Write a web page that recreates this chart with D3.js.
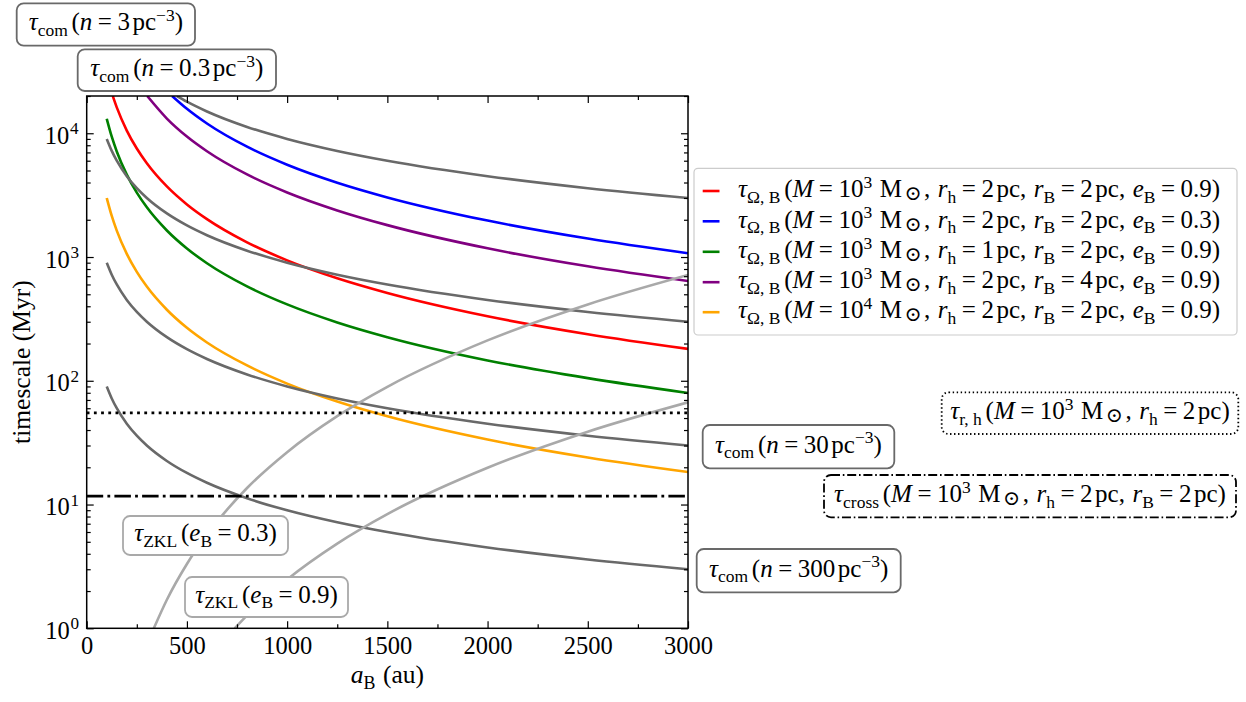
<!DOCTYPE html>
<html><head><meta charset="utf-8">
<script src="https://cdn.jsdelivr.net/npm/d3@7"></script>
<style>
body{margin:0;background:#fff}
svg{display:block}
text{font-family:"Liberation Serif","Times New Roman","DejaVu Serif",serif;fill:#000}
</style>
</head><body>
<svg id="c" width="1246" height="702"></svg>
<script>
// ---------------- DATA ----------------
const xTicks = [0, 500, 1000, 1500, 2000, 2500, 3000];
const xMinorTicks = [250, 750, 1250, 1750, 2250, 2750];
const yTickExps = [0, 1, 2, 3, 4];

// tau_Omega,B curves (a_B in au, timescale in Myr)
const redA = [130, 150, 200, 250, 300, 400, 500, 600, 800, 1000, 1250, 1500, 2000, 2500, 3000];
const redV = [20000, 16190, 10515, 7523, 5724, 3718, 2660, 2024, 1314, 940, 673, 512, 332, 238, 181];
const blueA = [426, 500, 600, 800, 1000, 1250, 1500, 2000, 2500, 3000];
const blueV = [20000, 15756, 11985, 7785, 5570, 3986, 3032, 1969, 1409, 1072];
const greenA = [100, 125, 150, 200, 250, 300, 400, 500, 600, 800, 1000, 1250, 1500, 2000, 2500, 3000];
const greenV = [13100, 9374, 7131, 4632, 3314, 2521, 1638, 1172, 891, 579, 414, 296, 225, 146, 105, 79.7];
const purpleA = [302, 400, 500, 600, 800, 1000, 1250, 1500, 2000, 2500, 3000];
const purpleV = [20000, 13145, 9406, 7155, 4647, 3325, 2380, 1810, 1176, 841, 640];
const orangeA = [100, 125, 150, 200, 250, 300, 400, 500, 600, 800, 1000, 1250, 1500, 2000, 2500, 3000];
const orangeV = [3000, 2147, 1633, 1061, 759, 577, 375, 268, 204, 133, 94.9, 67.9, 51.6, 33.5, 24.0, 18.3];

// tau_com curves
const com03A = [450, 500, 600, 800, 1000, 1250, 1500, 2000, 2500, 3000];
const com03V = [20000, 18000, 15000, 11250, 9000, 7200, 6000, 4500, 3600, 3000];
const comA = [100, 125, 150, 200, 250, 300, 400, 500, 600, 800, 1000, 1250, 1500, 2000, 2500, 3000];
const com3V = [9000, 7200, 6000, 4500, 3600, 3000, 2250, 1800, 1500, 1125, 900, 720, 600, 450, 360, 300];
const com30V = [900, 720, 600, 450, 360, 300, 225, 180, 150, 112.5, 90, 72, 60, 45, 36, 30];
const com300V = [90, 72, 60, 45, 36, 30, 22.5, 18, 15, 11.25, 9, 7.2, 6, 4.5, 3.6, 3];

// tau_ZKL curves
const zkl03A = [335, 400, 500, 600, 800, 1000, 1250, 1500, 2000, 2500, 3000];
const zkl03V = [1.0, 1.70, 3.31, 5.72, 13.6, 26.5, 51.8, 89.4, 212, 414, 716];
const zkl09A = [739, 800, 1000, 1250, 1500, 2000, 2500, 3000];
const zkl09V = [1.0, 1.27, 2.48, 4.84, 8.37, 19.8, 38.8, 67];

// horizontal timescales
const tauRh = 55;
const tauCross = 11.7;

// ---------------- LABELS ----------------
// [text, kind, dx(em)]
const eq = ['=', 'r', 0.22];
const after = 0.22;
const omegaLabel = (M, rh, rB, e) => [
  ['τ','i'],['Ω, B','sub'],['(','r',0.15],['M','i'],eq,['10','r',after],[M,'sup'],['M','r',0.3],['⊙','odot',0.1],[',','r',0.1],
  ['r','i',0.3],['h','sub'],eq,[rh,'r',after],['pc,','r',0.1],['r','i',0.3],['B','sub'],eq,[rB,'r',after],['pc,','r',0.1],
  ['e','i',0.3],['B','sub'],eq,[e,'r',after],[')','r']];
const legendLabels = [
  omegaLabel('3','2','2','0.9'),
  omegaLabel('3','2','2','0.3'),
  omegaLabel('3','1','2','0.9'),
  omegaLabel('3','2','4','0.9'),
  omegaLabel('4','2','2','0.9')];
const comLabel = n => [['τ','i'],['com','sub'],['(','r',0.15],['n','i'],eq,[n,'r',after],['pc','r',0.1],['−3','sup'],[')','r']];
const zklLabel = e => [['τ','i'],['ZKL','sub'],['(','r',0.15],['e','i'],['B','sub'],eq,[e,'r',after],[')','r']];
const rhLabel = [['τ','i'],['r, h','sub'],['(','r',0.15],['M','i'],eq,['10','r',after],['3','sup'],['M','r',0.3],['⊙','odot',0.1],[',','r',0.1],
  ['r','i',0.3],['h','sub'],eq,['2','r',after],['pc)','r',0.1]];
const crossLabel = [['τ','i'],['cross','sub'],['(','r',0.15],['M','i'],eq,['10','r',after],['3','sup'],['M','r',0.3],['⊙','odot',0.1],[',','r',0.1],
  ['r','i',0.3],['h','sub'],eq,['2','r',after],['pc,','r',0.1],['r','i',0.3],['B','sub'],eq,['2','r',after],['pc)','r',0.1]];

// ---------------- LAYOUT ----------------
const P = {left: 86.7, right: 688, top: 96, bottom: 628.3};
const svg = d3.select('#c');

const x = d3.scaleLinear().domain([0, 3000]).range([P.left, P.right]);
const y = d3.scaleLog().domain([1, 2e4]).range([P.bottom, P.top]);

svg.append('defs').append('clipPath').attr('id','clip')
  .append('rect').attr('x',P.left).attr('y',P.top).attr('width',P.right-P.left).attr('height',P.bottom-P.top);

function richText(g, parts, F) {
  const txt = g.append('text').attr('font-size', F);
  let shift = 0;
  parts.forEach(([t, s, dx]) => {
    let target = 0, fs = F, style = 'normal';
    if (s === 'i') style = 'italic';
    if (s === 'sub') { target = 0.22 * F; fs = 0.7 * F; }
    if (s === 'sup') { target = -0.38 * F; fs = 0.7 * F; }
    if (s === 'odot') { target = 0.12 * F; fs = 0.82 * F; }
    const ts = txt.append('tspan').text(t).attr('font-size', fs).attr('font-style', style).attr('dy', target - shift);
    if (s === 'odot') ts.style('font-family', '"DejaVu Serif",serif');
    if (dx) ts.attr('dx', dx * F);
    shift = target;
  });
  return txt;
}

// ---------------- CURVES ----------------
const line = d3.line().x(d => x(d[0])).y(d => y(d[1])).curve(d3.curveMonotoneX);
const zip = (a, v) => a.map((d, i) => [d, v[i]]);
const plotG = svg.append('g').attr('clip-path', 'url(#clip)');

const colored = [
  [redA, redV, '#ff0000'], [blueA, blueV, '#0000ff'], [greenA, greenV, '#008000'],
  [purpleA, purpleV, '#800080'], [orangeA, orangeV, '#ffa500']];
const grays = [[com03A, com03V], [comA, com3V], [comA, com30V], [comA, com300V]];
const zkls = [[zkl03A, zkl03V], [zkl09A, zkl09V]];

colored.forEach(([a, v, c]) => plotG.append('path').attr('d', line(zip(a, v)))
  .attr('fill','none').attr('stroke', c).attr('stroke-width', 2.6));
grays.forEach(([a, v]) => plotG.append('path').attr('d', line(zip(a, v)))
  .attr('fill','none').attr('stroke', '#696969').attr('stroke-width', 2.6));
zkls.forEach(([a, v]) => plotG.append('path').attr('d', line(zip(a, v)))
  .attr('fill','none').attr('stroke', '#a9a9a9').attr('stroke-width', 2.6));

plotG.append('line').attr('x1', x(0)).attr('x2', x(3000)).attr('y1', y(tauRh)).attr('y2', y(tauRh))
  .attr('stroke','#000').attr('stroke-width', 2.8).attr('stroke-dasharray','2.8,4.4');
plotG.append('line').attr('x1', x(0)).attr('x2', x(3000)).attr('y1', y(tauCross)).attr('y2', y(tauCross))
  .attr('stroke','#000').attr('stroke-width', 2.8).attr('stroke-dasharray','16.5,4.2,2.8,4.2');

// ---------------- AXES ----------------
function styleAxis(g) {
  g.attr('font-family', null).attr('font-size', null);
  g.select('.domain').remove();
  g.selectAll('line').attr('stroke','#000').attr('stroke-width',1.2);
}
const yMinor = [];
for (let e = 0; e < 5; e++) for (let k = 2; k <= 9; k++) { const v = k * Math.pow(10, e); if (v <= 2e4) yMinor.push(v); }
const yMajor = yTickExps.map(e => Math.pow(10, e));

const gx = svg.append('g').attr('transform', `translate(0,${P.bottom})`)
  .call(d3.axisBottom(x).tickValues(xTicks).tickSize(-7).tickSizeOuter(0).tickPadding(8).tickFormat(d3.format('d')));
styleAxis(gx);
gx.selectAll('text').attr('font-size', 24.5).attr('fill','#000').attr('dy', '0.74em');
svg.append('g').attr('transform', `translate(0,${P.bottom})`)
  .call(d3.axisBottom(x).tickValues(xMinorTicks).tickSize(-4).tickSizeOuter(0).tickFormat('')).call(styleAxis);
svg.append('g').attr('transform', `translate(0,${P.top})`)
  .call(d3.axisTop(x).tickValues(xTicks).tickSize(-7).tickSizeOuter(0).tickFormat('')).call(styleAxis);
svg.append('g').attr('transform', `translate(0,${P.top})`)
  .call(d3.axisTop(x).tickValues(xMinorTicks).tickSize(-4).tickSizeOuter(0).tickFormat('')).call(styleAxis);
svg.append('g').attr('transform', `translate(${P.left},0)`)
  .call(d3.axisLeft(y).tickValues(yMajor).tickSize(-7).tickSizeOuter(0).tickFormat('')).call(styleAxis);
svg.append('g').attr('transform', `translate(${P.left},0)`)
  .call(d3.axisLeft(y).tickValues(yMinor).tickSize(-4).tickSizeOuter(0).tickFormat('')).call(styleAxis);
svg.append('g').attr('transform', `translate(${P.right},0)`)
  .call(d3.axisRight(y).tickValues(yMajor).tickSize(-7).tickSizeOuter(0).tickFormat('')).call(styleAxis);
svg.append('g').attr('transform', `translate(${P.right},0)`)
  .call(d3.axisRight(y).tickValues(yMinor).tickSize(-4).tickSizeOuter(0).tickFormat('')).call(styleAxis);

// y tick labels 10^k
yTickExps.forEach(e => {
  const t = richText(svg, [['10','r'],[String(e),'sup',0.03]], 24.5);
  const w = t.node().getBBox().width;
  t.attr('x', 79 - w).attr('y', y(Math.pow(10, e)) + 10.5);
});

// frame
svg.append('rect').attr('x',P.left).attr('y',P.top).attr('width',P.right-P.left).attr('height',P.bottom-P.top)
  .attr('fill','none').attr('stroke','#000').attr('stroke-width',1.5);

// axis titles
svg.append('text').attr('font-size', 25.5).attr('text-anchor','middle')
  .attr('transform', `translate(30,${(P.top+P.bottom)/2}) rotate(-90)`).text('timescale (Myr)');
{
  const t = richText(svg, [['a','i'],['B','sub'],['(au)','r',0.3]], 25.5);
  const w = t.node().getBBox().width;
  t.attr('x', (P.left+P.right)/2 - w/2).attr('y', 683);
}

// ---------------- ANNOTATION BOXES ----------------
const annBoxes = [
  {parts: comLabel('3'),   box: [16.7, 3.3, 195, 45.7],   stroke: '#696969', dash: null},
  {parts: comLabel('0.3'), box: [77.7, 49.3, 276, 91],    stroke: '#696969', dash: null},
  {parts: comLabel('30'),  box: [702.7, 425, 894.3, 468.3], stroke: '#696969', dash: null},
  {parts: comLabel('300'), box: [696.7, 549, 900.7, 592.3], stroke: '#696969', dash: null},
  {parts: rhLabel,         box: [941.7, 392.3, 1238.3, 434], stroke: '#000', dash: '1.4,2.6'},
  {parts: crossLabel,      box: [824, 475, 1236, 517.3],  stroke: '#000', dash: '9,2.8,1.6,2.8'},
  {parts: zklLabel('0.3'), box: [123, 516, 288, 555],     stroke: '#a9a9a9', dash: null},
  {parts: zklLabel('0.9'), box: [185, 577, 348, 617],     stroke: '#a9a9a9', dash: null}
];
const annF = 25;
annBoxes.forEach(b => {
  const [x0, y0, x1, y1] = b.box;
  const g = svg.append('g');
  const r = g.append('rect').attr('x', x0).attr('y', y0).attr('width', x1 - x0).attr('height', y1 - y0)
    .attr('rx', 7).attr('ry', 7).attr('fill', '#fff').attr('stroke', b.stroke).attr('stroke-width', 1.8);
  if (b.dash) r.attr('stroke-dasharray', b.dash);
  const t = richText(g, b.parts, annF);
  const w = t.node().getBBox().width;
  t.attr('x', (x0 + x1) / 2 - w / 2).attr('y', (y0 + y1) / 2 + 0.235 * annF);
});

// ---------------- LEGEND ----------------
const legColors = ['#ff0000', '#0000ff', '#008000', '#800080', '#ffa500'];
const legRows = [191, 221.3, 251.8, 282.2, 312.2];
const lg = svg.append('g');
lg.append('rect').attr('x', 694).attr('y', 168.3).attr('width', 1237 - 694).attr('height', 335 - 168.3)
  .attr('rx', 4).attr('fill', '#fff').attr('fill-opacity', 0.8).attr('stroke', '#cccccc').attr('stroke-width', 1.2);
const legF = 25;
legendLabels.forEach((parts, i) => {
  lg.append('line').attr('x1', 702.7).attr('x2', 719.5).attr('y1', legRows[i]).attr('y2', legRows[i])
    .attr('stroke', legColors[i]).attr('stroke-width', 2.6);
  const t = richText(lg, parts, legF);
  t.attr('x', 738).attr('y', legRows[i] + 0.25 * legF);
});
</script>
</body></html>
